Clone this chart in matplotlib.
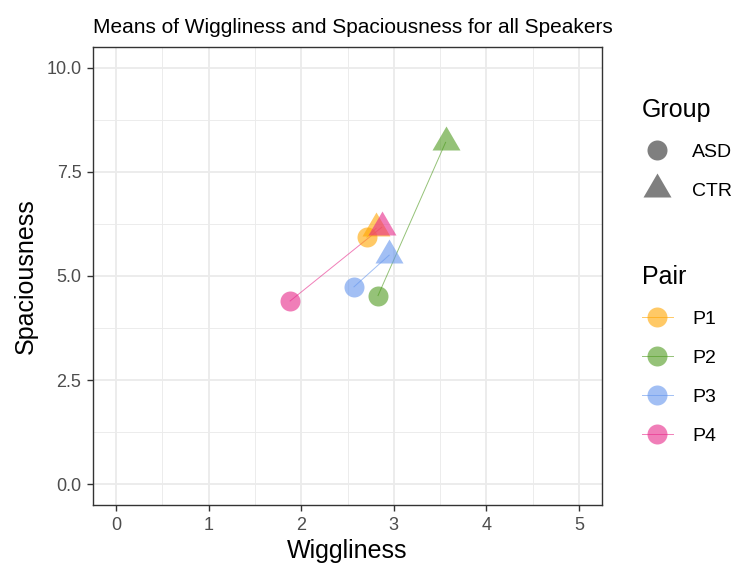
import matplotlib
matplotlib.use("Agg")
import matplotlib.pyplot as plt
from matplotlib.lines import Line2D
from matplotlib.path import Path
import numpy as np

plt.rcParams['font.family'] = ['Liberation Sans', 'DejaVu Sans']

pairs = ["P1", "P2", "P3", "P4"]
asd_x = [2.71, 2.83, 2.57, 1.88]
asd_y = [5.93, 4.53, 4.74, 4.40]
ctr_x = [2.81, 3.56, 2.95, 2.87]
ctr_y = [6.15, 8.21, 5.50, 6.17]
colors = ["#FFA500", "#4E9A1E", "#6495ED", "#E7298A"]
groups = ["ASD", "CTR"]
x_ticks = [0, 1, 2, 3, 4, 5]
y_ticks = [0.0, 2.5, 5.0, 7.5, 10.0]

tri = Path([(0, 16), (-14, -8), (14, -8), (0, 16)],
           [Path.MOVETO, Path.LINETO, Path.LINETO, Path.CLOSEPOLY])
px = 72 / 100.0
circ_ms = 20 * px
tri_ms = 32 * px
alpha = 0.6

fig = plt.figure(figsize=(7.38, 5.65), dpi=100)
ax = fig.add_axes([93 / 738, 1 - 505 / 565, (602 - 93) / 738, (505 - 47) / 565])

for i, p in enumerate(pairs):
    ax.plot([asd_x[i], ctr_x[i]], [asd_y[i], ctr_y[i]], color=colors[i],
            lw=0.7, alpha=alpha, zorder=3)
    ax.plot(asd_x[i], asd_y[i], marker='o', ms=circ_ms, color=colors[i],
            mec='none', alpha=alpha, ls='none', zorder=4)
    ax.plot(ctr_x[i], ctr_y[i], marker=tri, ms=tri_ms, color=colors[i],
            mec='none', alpha=alpha, ls='none', zorder=4)

ax.set_xlim(-0.25, 5.25)
ax.set_ylim(-0.5, 10.5)
ax.set_xticks(x_ticks)
ax.set_xticklabels([str(v) for v in x_ticks])
ax.set_yticks(y_ticks)
ax.set_yticklabels([f"{v:.1f}" for v in y_ticks])
ax.set_xticks(np.arange(0.5, 5.0, 1.0), minor=True)
ax.set_yticks([1.25, 3.75, 6.25, 8.75], minor=True)
ax.grid(which='major', color='#EBEBEB', lw=1.3, zorder=0)
ax.grid(which='minor', color='#EBEBEB', lw=0.65, zorder=0)
ax.set_axisbelow(True)
ax.tick_params(which='major', length=4.3, width=1.0, color='#333333',
               labelsize=13, labelcolor='#4D4D4D', pad=4)
ax.tick_params(which='minor', length=0)
for s in ax.spines.values():
    s.set_color('#333333')
    s.set_linewidth(1.0)

ax.set_xlabel("Wiggliness", fontsize=18, color='black', labelpad=4)
ax.set_ylabel("Spaciousness", fontsize=18, color='black', labelpad=6)
ax.set_title("Means of Wiggliness and Spaciousness for all Speakers",
             loc='left', fontsize=15, pad=10)

# legends
g_handles = [
    Line2D([], [], marker='o', ms=circ_ms, color='#7F7F7F', mec='none', ls='none'),
    Line2D([], [], marker=tri, ms=tri_ms, color='#7F7F7F', mec='none', ls='none'),
]
leg1 = fig.legend(g_handles, groups, title="Group", loc='upper left',
                  bbox_to_anchor=(634 / 738, 1 - 90 / 565), frameon=False,
                  fontsize=14, title_fontsize=18, handlelength=1.6,
                  labelspacing=1.1, handletextpad=1.0, borderaxespad=0)
leg1._legend_box.align = 'left'

p_handles = [
    Line2D([], [], marker='o', ms=circ_ms, color=c, mec='none', lw=0.7, alpha=alpha)
    for c in colors
]
leg2 = fig.legend(p_handles, pairs, title="Pair", loc='upper left',
                  bbox_to_anchor=(634 / 738, 1 - 257 / 565), frameon=False,
                  fontsize=14, title_fontsize=18, handlelength=1.6,
                  labelspacing=1.1, handletextpad=1.0, borderaxespad=0)
leg2._legend_box.align = 'left'

fig.savefig("out.png", dpi=100)
